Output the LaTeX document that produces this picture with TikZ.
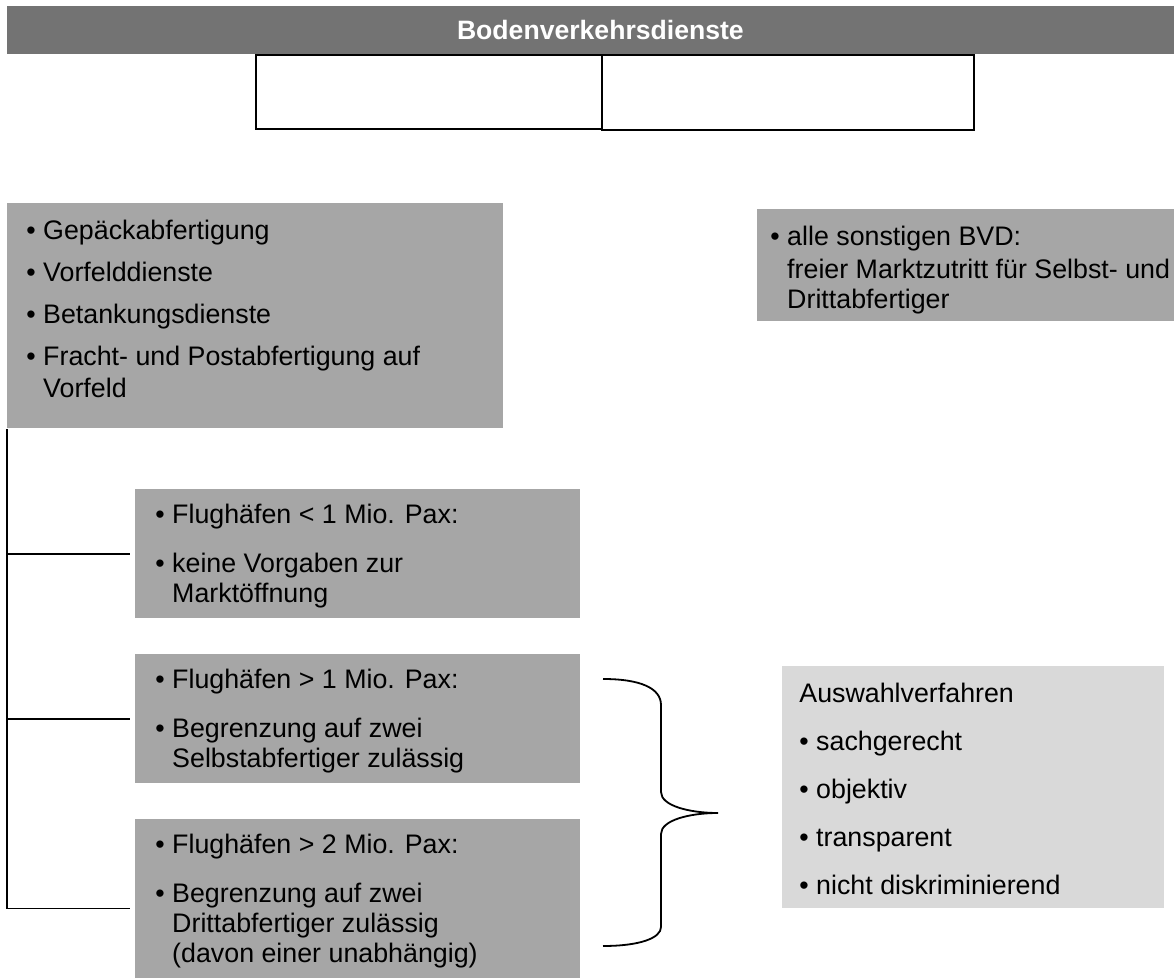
\documentclass[tikz,border=0pt]{standalone}
\usepackage{fontspec}
\setmainfont{Liberation Sans}
\usetikzlibrary{positioning}
\definecolor{bardark}{HTML}{737373}
\definecolor{boxgray}{HTML}{A6A6A6}
\definecolor{boxlight}{HTML}{D9D9D9}
\tikzset{
  feld/.style={fill=boxgray, inner sep=0pt, anchor=north west},
  leer/.style={draw, line width=0.8pt, fill=white, inner sep=0pt, anchor=north west},
  liste/.style={inner sep=0pt, align=left, font=\fontsize{13.4}{15}\selectfont},
  linie/.style={line width=0.7pt},
}
\newcommand{\einzug}{\hphantom{• }}
\newcommand{\oben}{\rule{0pt}{10pt}}
\begin{document}
\begin{tikzpicture}[x=0.5pt, y=-0.5pt]
        \useasboundingbox (0,0) rectangle (1174,978);
        \clip (0,0) rectangle (1174,978);
        % Kopf
        \node[feld, fill=bardark, minimum width=593pt, minimum height=24pt, text=white,
              font=\fontsize{13.3}{15}\selectfont\bfseries] (bar) at (7,6) {Bodenverkehrsdienste};
        \node[leer, minimum width=173pt, minimum height=37pt] (links) at (255,54) {};
        \node[leer, minimum width=186pt, minimum height=37.5pt] (rechts) at (601,54) {};
        % Kaesten
        \node[feld, minimum width=248pt, minimum height=112.5pt] (dienste) at (7,203) {};
        \node[feld, minimum width=215pt, minimum height=56pt] (sonst) at (757,209) {};
        \node[feld, minimum width=222.5pt, minimum height=64.5pt] (klein) at (135,489) {};
        \node[feld, minimum width=222.5pt, minimum height=64.5pt] (mittel) at (135,654) {};
        \node[feld, minimum width=222.5pt, minimum height=89pt] (gross) at (135,819) {};
        \node[feld, fill=boxlight, minimum width=191pt, minimum height=121pt] (auswahl) at (782,666) {};
        % Texte
        \node[liste, font=\fontsize{13.4}{16}\selectfont, below right=8pt and 9.5pt of dienste.north west] (dienstetxt)
          {\oben• Gepäckabfertigung\\[5pt] • Vorfelddienste\\[5pt] • Betankungsdienste\\[5pt]
           • Fracht- und Postabfertigung auf\\ \einzug Vorfeld};
        \node[liste, below right=8pt and 6.5pt of sonst.north west] (sonsttxt)
          {\oben• alle sonstigen BVD:\\[1.5pt] \einzug freier Marktzutritt für Selbst- und\\ \einzug Drittabfertiger};
        \node[liste, below right=7pt and 10pt of klein.north west] (kleintxt)
          {\oben• Flughäfen < 1 Mio. Pax:\\[9.5pt] • keine Vorgaben zur\\ \einzug Marktöffnung};
        \node[liste, below right=7pt and 10pt of mittel.north west] (mitteltxt)
          {\oben• Flughäfen > 1 Mio. Pax:\\[9.5pt] • Begrenzung auf zwei\\ \einzug Selbstabfertiger zulässig};
        \node[liste, below right=7pt and 10pt of gross.north west] (grosstxt)
          {\oben• Flughäfen > 2 Mio. Pax:\\[9.5pt] • Begrenzung auf zwei\\ \einzug Drittabfertiger zulässig\\
           \einzug (davon einer unabhängig)};
        \node[liste, below right=8pt and 8.5pt of auswahl.north west] (auswahltxt)
          {\oben Auswahlverfahren\\[9pt] • sachgerecht\\[9pt] • objektiv\\[9pt] • transparent\\[9pt]
           • nicht diskriminierend};
        % Verbindungen
        \draw[linie] (dienste.south west) -- (dienste.south west |- gross.west) -- ([xshift=-2.5pt]gross.west);
        \draw[linie] (dienste.south west |- klein.west) -- ([xshift=-2.5pt]klein.west);
        \draw[linie] (dienste.south west |- mittel.west) -- ([xshift=-2.5pt]mittel.west);
        % Klammer
        \coordinate (spitze) at (718,813);
        \draw[line width=0.9pt] (603,679) .. controls (640,679) and (661,688) .. (661,705) -- (661,792)
          .. controls (661,806) and (690,813) .. (spitze) .. controls (690,813) and (661,820) .. (661,834)
          -- (661,927) .. controls (661,938) and (640,946) .. (603,946);
      \end{tikzpicture}
\end{document}
